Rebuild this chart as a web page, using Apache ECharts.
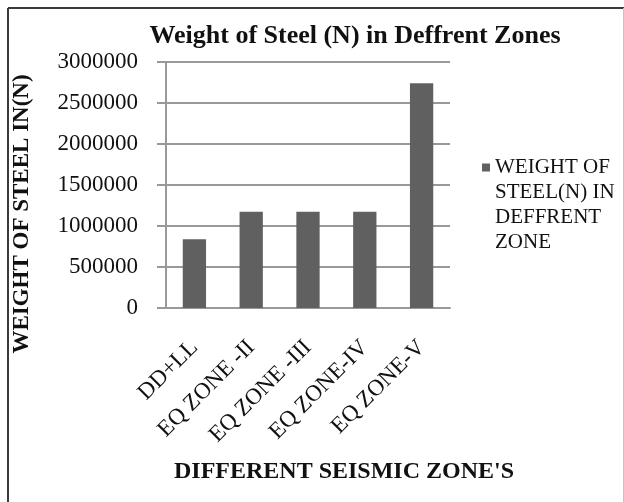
<!DOCTYPE html>
<html>
<head>
<meta charset="utf-8">
<script src="https://cdn.jsdelivr.net/npm/echarts@6/dist/echarts.min.js"></script>
<style>
  html, body { margin: 0; padding: 0; background: #fff; }
  #chart { width: 624px; height: 502px; }
</style>
</head>
<body>
<div id="chart"></div>
<script>
// Steel weight per load case / seismic zone
const categories = ['DD+LL', 'EQ ZONE -II', 'EQ ZONE -III', 'EQ ZONE-IV', 'EQ ZONE-V'];
const steelWeight = [838000, 1174000, 1174000, 1174000, 2740000];
const seriesName = 'WEIGHT OF STEEL(N) IN DEFFRENT ZONE';
const legendLines = ['WEIGHT OF', 'STEEL(N) IN', 'DEFFRENT', 'ZONE'];
const yTicks = { min: 0, max: 3000000, step: 500000 };

const serif = '"Liberation Serif", "Times New Roman", serif';
const chart = echarts.init(document.getElementById('chart'));

// Legend text is vertically centred on the marker; leading blank lines
// put the first real line level with the square.
const legendText = '\n'.repeat(legendLines.length - 1) + legendLines.join('\n');

chart.setOption({
  animation: false,
  backgroundColor: '#fff',
  textStyle: { fontFamily: serif },
  title: {
    text: 'Weight of Steel (N) in Deffrent Zones',
    left: 350,
    top: 18,
    textAlign: 'center',
    textStyle: { fontFamily: serif, fontWeight: 'bold', fontSize: 26, color: '#111' }
  },
  grid: { left: 166, right: 174, top: 62, bottom: 194, containLabel: false },
  legend: {
    left: 482,
    top: 80,
    padding: 0,
    icon: 'rect',
    itemWidth: 8,
    itemHeight: 8,
    itemGap: 5,
    data: [seriesName],
    formatter: () => legendText,
    textStyle: {
      fontFamily: serif,
      fontSize: 21,
      color: '#111',
      lineHeight: 25
    }
  },
  xAxis: {
    type: 'category',
    data: categories,
    axisLine: { show: true, lineStyle: { color: '#999', width: 2 } },
    axisTick: { show: false },
    axisLabel: {
      rotate: 45,
      margin: 36,
      interval: 0,
      fontFamily: serif,
      fontSize: 23,
      color: '#111'
    }
  },
  yAxis: {
    type: 'value',
    min: yTicks.min,
    max: yTicks.max,
    interval: yTicks.step,
    axisLine: { show: true, lineStyle: { color: '#999', width: 2 } },
    axisTick: { show: true, length: 9, lineStyle: { color: '#999', width: 2 } },
    splitLine: { show: true, lineStyle: { color: '#999', width: 2 } },
    axisLabel: {
      margin: 28,
      fontFamily: serif,
      fontSize: 23,
      color: '#111',
      formatter: (v) => String(v)
    }
  },
  series: [{
    name: seriesName,
    type: 'bar',
    data: steelWeight,
    barWidth: '41%',
    itemStyle: { color: '#606060' }
  }],
  graphic: [
    // chart frame
    { type: 'line', shape: { x1: 8, y1: 8, x2: 8, y2: 502 }, style: { stroke: '#3a3a3a', lineWidth: 2 } },
    { type: 'line', shape: { x1: 8, y1: 8, x2: 624, y2: 8 }, style: { stroke: '#3a3a3a', lineWidth: 2 } },
    { type: 'line', shape: { x1: 623.5, y1: 8, x2: 623.5, y2: 502 }, style: { stroke: '#c4c4c4', lineWidth: 1 } },
    // axis titles
    {
      type: 'text',
      x: 22, y: 214,
      rotation: Math.PI / 2,
      style: {
        text: 'WEIGHT OF STEEL IN(N)',
        font: 'bold 23px ' + serif,
        fill: '#111',
        align: 'center',
        verticalAlign: 'middle'
      }
    },
    {
      type: 'text',
      x: 344, y: 472,
      style: {
        text: "DIFFERENT SEISMIC ZONE'S",
        font: 'bold 24px ' + serif,
        fill: '#111',
        align: 'center',
        verticalAlign: 'middle'
      }
    }
  ]
});
</script>
</body>
</html>
